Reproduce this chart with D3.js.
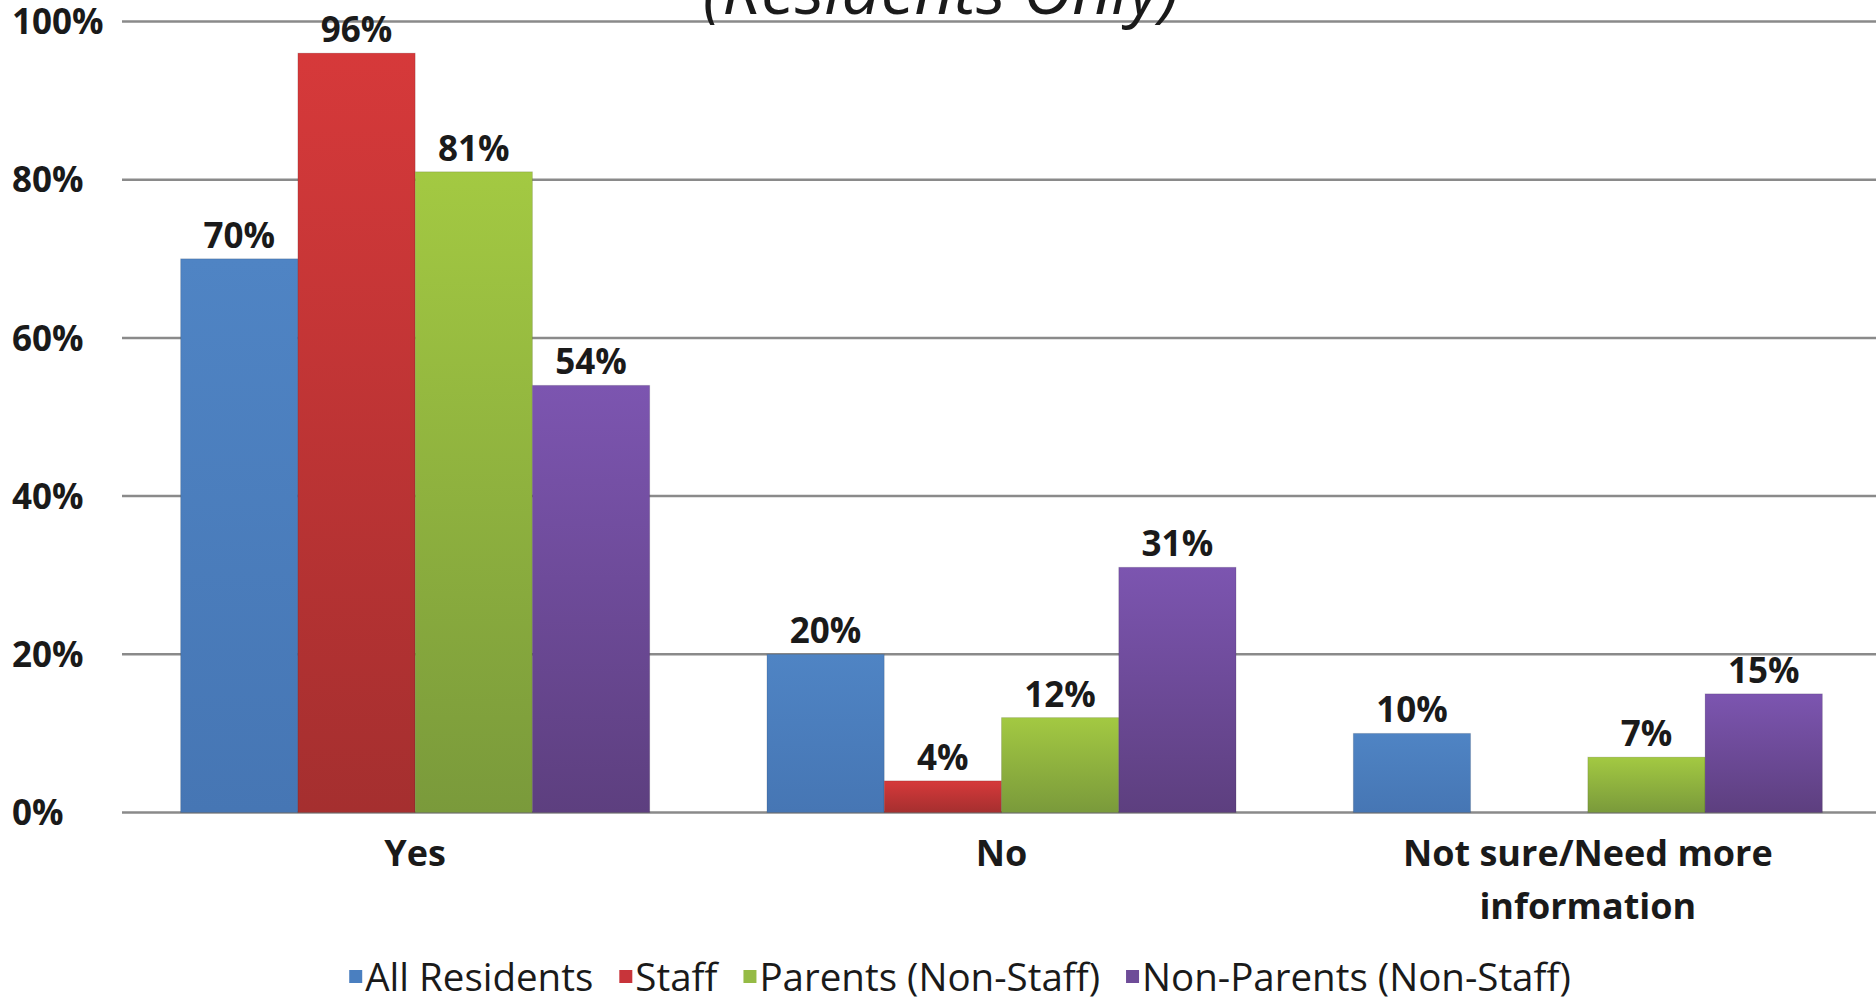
<!DOCTYPE html>
<html>
<head>
<meta charset="utf-8">
<script src="https://cdn.jsdelivr.net/npm/d3@7"></script>
<style>
  html, body { margin: 0; padding: 0; background: #ffffff; overflow: hidden; }
  svg { display: block; }
  text { font-family: "Open Sans", "DejaVu Sans", sans-serif; fill: #1a1a1a; }
</style>
</head>
<body>
<svg id="chart" width="1876" height="1002"></svg>
<script>
// ---- data ----
const categories = ["Yes", "No", "Not sure/Need more information"];
const categoryLines = [["Yes"], ["No"], ["Not sure/Need more", "information"]];
const seriesNames = ["All Residents", "Staff", "Parents (Non-Staff)", "Non-Parents (Non-Staff)"];
const allResidents = [70, 20, 10];
const staff = [96, 4, 0];
const parents = [81, 12, 7];
const nonParents = [54, 31, 15];
const yTicks = [0, 20, 40, 60, 80, 100];
const titleText = "(Residents Only)";

const seriesValues = [allResidents, staff, parents, nonParents];
const colorsTop = ["#4f84c4", "#d6393a", "#a3c942", "#7c55b0"];
const colorsBottom = ["#4676b4", "#a52f2f", "#7a9a3b", "#5d3f7f"];
const legendColors = ["#4a7fc0", "#c8343a", "#95bb45", "#6e4c98"];

const svg = d3.select("#chart");
const W = 1876, H = 1002;
const plotLeft = 122, plotRight = 1881;
const yTop = 21.5, yBottom = 812.5;

const x0 = d3.scaleBand().domain(categories).range([plotLeft, plotRight])
  .paddingInner(0.2).paddingOuter(0.1);
const x1 = d3.scaleBand().domain(seriesNames).range([0, x0.bandwidth()]).padding(0);
const y = d3.scaleLinear().domain([0, 100]).range([yBottom, yTop]);

// gradients
const defs = svg.append("defs");
seriesNames.forEach((s, i) => {
  const g = defs.append("linearGradient").attr("id", "grad" + i)
    .attr("x1", 0).attr("y1", 0).attr("x2", 0).attr("y2", 1);
  g.append("stop").attr("offset", "0%").attr("stop-color", colorsTop[i]);
  g.append("stop").attr("offset", "100%").attr("stop-color", colorsBottom[i]);
});

// gridlines
svg.append("g").selectAll("line").data(yTicks).join("line")
  .attr("x1", plotLeft).attr("x2", W)
  .attr("y1", d => y(d)).attr("y2", d => y(d))
  .attr("stroke", "#8a8a8a").attr("stroke-width", 2.5);

// y labels (left aligned)
svg.append("g").selectAll("text").data(yTicks).join("text")
  .attr("x", 12).attr("y", d => y(d))
  .attr("dy", "0.36em")
  .attr("font-size", 35).attr("font-weight", 700)
  .text(d => d + "%");

// bars
const flat = [];
categories.forEach((c, ci) => {
  seriesNames.forEach((s, si) => {
    flat.push({ cat: c, ser: s, si: si, v: seriesValues[si][ci] });
  });
});

svg.append("g").selectAll("rect").data(flat.filter(d => d.v > 0)).join("rect")
  .attr("x", d => x0(d.cat) + x1(d.ser))
  .attr("width", x1.bandwidth())
  .attr("y", d => y(d.v))
  .attr("height", d => y(0) - y(d.v))
  .attr("fill", d => "url(#grad" + d.si + ")")
  .attr("stroke", "rgba(0,0,0,0.12)").attr("stroke-width", 1);

// value labels
svg.append("g").selectAll("text").data(flat.filter(d => d.v > 0)).join("text")
  .attr("x", d => x0(d.cat) + x1(d.ser) + x1.bandwidth() / 2)
  .attr("y", d => y(d.v) - 11)
  .attr("text-anchor", "middle")
  .attr("font-size", 35).attr("font-weight", 700)
  .text(d => d.v + "%");

// category labels
const catG = svg.append("g").selectAll("text").data(categories).join("text")
  .attr("text-anchor", "middle")
  .attr("font-size", 36).attr("font-weight", 700)
  .attr("x", d => x0(d) + x0.bandwidth() / 2)
  .attr("y", 866);
catG.each(function(d, i) {
  const t = d3.select(this);
  categoryLines[i].forEach((ln, li) => {
    t.append("tspan").attr("x", x0(d) + x0.bandwidth() / 2)
      .attr("dy", li === 0 ? 0 : 53).text(ln);
  });
});

// title (partially cut off at top, as in the reference)
svg.append("text").attr("x", 941).attr("y", 14)
  .attr("text-anchor", "middle").attr("font-size", 68).attr("font-style", "italic")
  .text(titleText);

// legend
const leg = svg.append("g");
const markerSize = 13, markerGap = 3, itemGap = 26, legFont = 38.5, legBaseline = 991;
const items = [];
seriesNames.forEach((s, i) => {
  const g = leg.append("g");
  g.append("rect").attr("x", 0).attr("y", legBaseline - 21).attr("width", markerSize).attr("height", markerSize)
    .attr("fill", legendColors[i]);
  const t = g.append("text").attr("x", markerSize + markerGap).attr("y", legBaseline)
    .attr("font-size", legFont).text(s);
  const w = markerSize + markerGap + t.node().getComputedTextLength();
  items.push({ g, w });
});
const totalW = d3.sum(items, d => d.w) + itemGap * (items.length - 1);
let start = 960 - totalW / 2;
items.forEach(it => {
  it.g.attr("transform", `translate(${start},0)`);
  start += it.w + itemGap;
});
</script>
</body>
</html>
